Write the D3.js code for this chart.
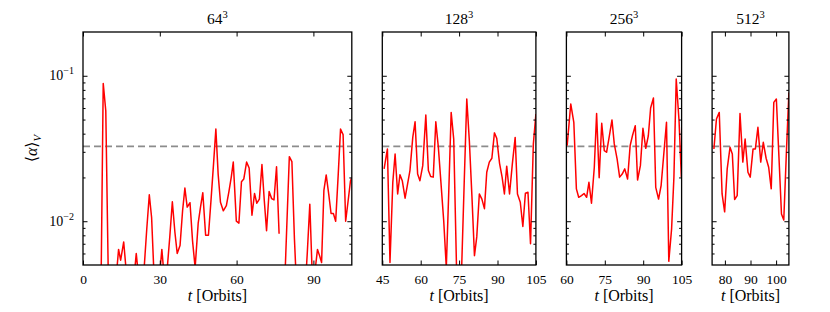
<!DOCTYPE html>
<html>
<head>
<meta charset="utf-8">
<script src="https://cdn.jsdelivr.net/npm/d3@7"></script>
<style>
  body { margin: 0; background: #fff; }
  svg text { font-family: "Liberation Serif", "DejaVu Serif", serif; fill: #000; }
</style>
</head>
<body>
<div id="chart"></div>
<script>
// panel titles (grid resolution) and x ranges in orbits
var titles = ["64", "128", "256", "512"];
var xDomains = [[0, 105], [45, 105], [60, 105], [75, 105]];
var xTicks = [[0, 30, 60, 90], [45, 60, 75, 90, 105], [60, 75, 90, 105], [80, 90, 100]];
var yDomain = [0.005, 0.2];
var alphaMean = 0.0327;

// 64^3 run (null = negative value, line breaks)
var t64 = [7.0, 7.9, 8.9, 9.9, 10.9, 11.9, 12.9, 13.9, 14.7, 15.9, 16.9, 17.9, 18.9, 19.9, 20.8, 21.8, 22.8,
  23.9, 24.9, 25.9, 26.8, 27.8, 28.8, 29.8, 30.8, 31.8, 32.8, 33.9, 34.9, 35.9, 36.8, 37.9, 38.9, 39.8,
  40.7, 41.8, 42.8, 43.8, 45.0, 45.9, 46.8, 47.9, 49.0, 50.0, 51.0, 51.9, 52.8, 53.7, 54.8, 56.0, 57.0,
  57.9, 58.7, 59.9, 60.9, 61.9, 62.8, 63.9, 64.9, 66.0, 67.0, 67.9, 68.9, 69.9, 70.8, 71.7, 72.7, 73.7,
  74.6, 75.6, 76.6, 77.6, 78.6, 79.6, 80.6, 81.6, 82.6, 83.6, 84.6, 85.6, 86.6, 87.6, 88.6, 89.6, 90.6,
  91.6, 92.4, 93.2, 94.1, 95.0, 96.0, 96.9, 97.8, 98.7, 99.7, 100.6, 101.6, 102.6, 103.5, 104.5, 105.0];
var a64 = [0.003, 0.0886, 0.0575, 0.004, 0.003, 0.003, 0.004, 0.0064, 0.0054, 0.0072, 0.0045, 0.003, 0.003,
  0.004, 0.006, 0.004, 0.003, 0.0048, 0.0088, 0.0152, 0.0106, 0.004, 0.003, 0.004, 0.0064, 0.004, 0.0045,
  0.0078, 0.0136, 0.0084, 0.006, 0.0068, 0.0118, 0.0169, 0.0125, 0.0134, 0.0073, 0.0048, 0.0097, 0.0125,
  0.0157, 0.008, 0.008, 0.0139, 0.0249, 0.043, 0.021, 0.0135, 0.0118, 0.0128, 0.016, 0.02, 0.0255, 0.01,
  0.0097, 0.0187, 0.0195, 0.0255, 0.0232, 0.011, 0.0155, 0.0133, 0.0142, 0.0245, 0.014, 0.0086, 0.016,
  0.0143, 0.014, 0.0237, 0.0082, null, 0.003, 0.0092, 0.0278, 0.0257, 0.0075, 0.003, 0.003, 0.003, 0.003,
  0.006, 0.0131, 0.004, 0.0045, 0.0064, 0.0058, 0.0052, 0.0163, 0.0208, 0.0153, 0.0113, 0.0113, 0.01,
  0.021, 0.043, 0.0394, 0.01, 0.0135, 0.019, 0.02];

// 128^3 run
var t128 = [45.7, 47.0, 48.0, 49.1, 50.0, 51.0, 51.9, 52.8, 53.9, 54.9, 55.8, 56.9, 57.8, 58.8, 59.7, 60.8,
  62.0, 63.0, 63.9, 64.9, 65.9, 66.9, 67.9, 69.0, 70.0, 71.0, 71.9, 72.9, 74.0, 75.0, 76.0, 77.0, 78.0,
  79.0, 80.0, 81.0, 81.9, 82.9, 83.9, 84.9, 85.8, 86.8, 87.8, 88.8, 89.7, 90.8, 91.8, 92.7, 93.6, 94.7,
  95.8, 96.9, 97.8, 98.9, 99.9, 100.9, 101.9, 102.9, 104.0, 105.0];
var a128 = [0.0229, 0.0314, 0.0052, 0.0185, 0.029, 0.0154, 0.0209, 0.019, 0.0144, 0.0181, 0.0223, 0.0377,
  0.0483, 0.0211, 0.019, 0.0241, 0.0537, 0.0223, 0.0203, 0.0201, 0.0483, 0.0322, 0.0185, 0.01, 0.0048,
  0.0168, 0.056, 0.0367, 0.0047, 0.003, 0.0048, 0.0186, 0.0692, 0.0358, 0.015, 0.0058, 0.0078, 0.0154,
  0.0142, 0.0122, 0.0217, 0.0255, 0.0271, 0.0405, 0.0372, 0.025, 0.0201, 0.0154, 0.0239, 0.0154, 0.0248,
  0.0377, 0.0154, 0.0135, 0.0092, 0.0156, 0.0158, 0.007, 0.0339, 0.0546];

// 256^3 run
var t256 = [60.3, 61.7, 62.9, 63.9, 64.8, 65.9, 66.9, 67.9, 68.8, 69.8, 70.9, 71.8, 72.8, 73.8, 74.8, 75.7,
  76.8, 77.8, 78.7, 79.8, 80.8, 81.8, 82.8, 83.9, 84.9, 85.8, 86.9, 87.8, 88.9, 89.9, 91.0, 92.0, 92.9,
  94.0, 94.9, 96.0, 97.0, 98.1, 99.1, 100.0, 101.1, 102.0, 102.9, 104.0, 104.9];
var a256 = [0.0331, 0.064, 0.0479, 0.0167, 0.0146, 0.015, 0.0155, 0.0146, 0.0185, 0.0133, 0.0235, 0.0551,
  0.0199, 0.0471, 0.0306, 0.0298, 0.0387, 0.0497, 0.034, 0.0268, 0.0201, 0.0211, 0.0229, 0.0195, 0.0331,
  0.0387, 0.0454, 0.0192, 0.0241, 0.0435, 0.0317, 0.0387, 0.06, 0.0703, 0.0171, 0.0142, 0.0176, 0.0298,
  0.0479, 0.0053, 0.0089, 0.0201, 0.0949, 0.0491, 0.0201];

// 512^3 run
var t512 = [75.7, 76.7, 77.8, 78.9, 79.9, 80.9, 82.0, 82.9, 83.8, 84.8, 85.9, 87.0, 87.9, 89.0, 89.9, 91.0,
  91.9, 92.9, 94.0, 95.0, 96.1, 97.1, 98.1, 99.1, 100.1, 101.1, 102.1, 103.0, 104.1, 105.0];
var a512 = [0.0314, 0.0504, 0.056, 0.0154, 0.0116, 0.0229, 0.0322, 0.029, 0.0141, 0.015, 0.0551, 0.0255,
  0.0367, 0.0217, 0.0201, 0.0314, 0.0314, 0.0442, 0.0255, 0.0349, 0.0271, 0.0235, 0.0167, 0.0656, 0.0692,
  0.028, 0.0112, 0.0102, 0.0322, 0.0768];

var times = [t64, t128, t256, t512];
var alphas = [a64, a128, a256, a512];

function drawChart() {
  var svgWidth = 830, svgHeight = 312;
  var plotTop = 32, plotBottom = 265;
  var left0 = 83, pxPerOrbit = 2.56, gap = 30.5;

  var svg = d3.select("#chart").append("svg")
    .attr("width", svgWidth)
    .attr("height", svgHeight);

  var y = d3.scaleLog().domain(yDomain).range([plotBottom, plotTop]);

  // major and minor log ticks
  var yMajor = [0.01, 0.1];
  var yMinor = [];
  [0.001, 0.01, 0.1].forEach(function (dec) {
    for (var m = 2; m <= 9; m++) {
      var v = +(m * dec).toPrecision(3);
      if (v > yDomain[0] && v < yDomain[1]) yMinor.push(v);
    }
  });

  var left = left0;
  titles.forEach(function (title, i) {
    var dom = xDomains[i];
    var w = (dom[1] - dom[0]) * pxPerOrbit;
    var x = d3.scaleLinear().domain(dom).range([left, left + w]);
    var g = svg.append("g");

    // clip the series to the frame
    g.append("clipPath").attr("id", "clip" + i)
      .append("rect")
      .attr("x", left).attr("y", plotTop)
      .attr("width", w).attr("height", plotBottom - plotTop);

    // mean alpha line
    g.append("line")
      .attr("x1", left).attr("x2", left + w)
      .attr("y1", y(alphaMean)).attr("y2", y(alphaMean))
      .attr("stroke", "#8c8c8c")
      .attr("stroke-width", 1.6)
      .attr("stroke-dasharray", "7,4");

    var pts = times[i].map(function (t, j) { return { t: t, a: alphas[i][j] }; });
    var line = d3.line()
      .defined(d => d.a !== null)
      .x(d => x(d.t))
      .y(d => y(d.a));

    g.append("path")
      .datum(pts)
      .attr("clip-path", "url(#clip" + i + ")")
      .attr("fill", "none")
      .attr("stroke", "#ff0000")
      .attr("stroke-width", 1.5)
      .attr("stroke-linejoin", "round")
      .attr("d", line);

    // axes with inward ticks on all four sides
    g.append("g").attr("transform", `translate(0, ${plotBottom})`)
      .call(d3.axisBottom(x).tickValues(xTicks[i]).tickSize(-4.5).tickPadding(9).tickFormat(d3.format("d")))
      .call(a => a.select(".domain").remove());
    g.append("g").attr("transform", `translate(0, ${plotTop})`)
      .call(d3.axisTop(x).tickValues(xTicks[i]).tickSize(-4.5).tickFormat(""))
      .call(a => a.select(".domain").remove());

    [[d3.axisLeft, left], [d3.axisRight, left + w]].forEach(function (s) {
      var ax = g.append("g").attr("transform", `translate(${s[1]}, 0)`);
      ax.call(s[0](y).tickValues(yMinor).tickSize(-2.5).tickFormat(""))
        .call(a => a.select(".domain").remove());
      ax.append("g")
        .call(s[0](y).tickValues(yMajor).tickSize(-4.5).tickFormat(""))
        .call(a => a.select(".domain").remove());
    });

    g.selectAll(".tick line").attr("stroke", "#000").attr("stroke-width", 1);
    g.selectAll(".tick text").attr("font-size", 13.5);

    // frame
    g.append("rect")
      .attr("x", left).attr("y", plotTop)
      .attr("width", w).attr("height", plotBottom - plotTop)
      .attr("fill", "none")
      .attr("stroke", "#000")
      .attr("stroke-width", 1.3);

    // title with cube superscript
    var tt = g.append("text")
      .attr("x", left + w / 2)
      .attr("y", 24)
      .attr("text-anchor", "middle")
      .attr("font-size", 15.5);
    tt.append("tspan").text(title);
    tt.append("tspan").attr("dy", -6).attr("font-size", 10.5).text("3");

    // x label
    var xl = g.append("text")
      .attr("x", left + w / 2)
      .attr("y", 301)
      .attr("text-anchor", "middle")
      .attr("font-size", 16);
    xl.append("tspan").attr("font-style", "italic").text("t");
    xl.append("tspan").text(" [Orbits]");

    left += w + gap;
  });

  // y tick labels on the first panel only
  [[0.1, "\u22121"], [0.01, "\u22122"]].forEach(function (d) {
    var lab = svg.append("text")
      .attr("x", 74)
      .attr("y", y(d[0]) + 4.5)
      .attr("text-anchor", "end")
      .attr("font-size", 14);
    lab.append("tspan").text("10");
    lab.append("tspan").attr("dy", -6).attr("font-size", 10).text(d[1]);
  });

  // y label
  var yl = svg.append("text")
    .attr("transform", `translate(37, ${(plotTop + plotBottom) / 2}) rotate(-90)`)
    .attr("text-anchor", "middle")
    .attr("font-size", 16);
  yl.append("tspan").text("\u27E8");
  yl.append("tspan").attr("font-style", "italic").text("\u03B1");
  yl.append("tspan").text("\u27E9");
  yl.append("tspan").attr("dy", 4).attr("font-size", 11).attr("font-style", "italic").text("V");
}

drawChart();
</script>
</body>
</html>
